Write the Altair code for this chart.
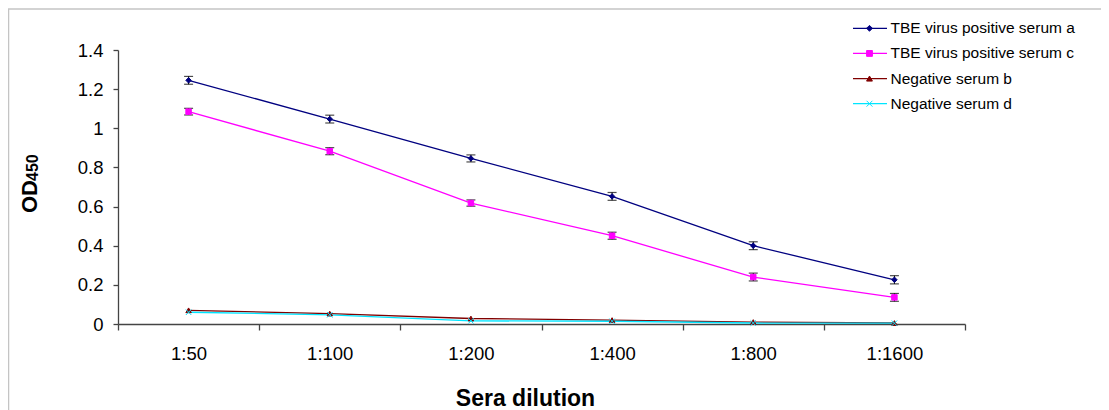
import altair as alt
import pandas as pd

dilutions = ["1:50", "1:100", "1:200", "1:400", "1:800", "1:1600"]
series = ["TBE virus positive serum a", "TBE virus positive serum c",
          "Negative serum b", "Negative serum d"]
serum_a = [1.245, 1.047, 0.846, 0.652, 0.400, 0.226]
serum_c = [1.085, 0.883, 0.618, 0.451, 0.240, 0.136]
serum_b = [0.070, 0.053, 0.028, 0.020, 0.010, 0.005]
serum_d = [0.060, 0.047, 0.016, 0.014, 0.005, 0.004]
err_a = [0.020, 0.020, 0.018, 0.020, 0.020, 0.021]
err_c = [0.017, 0.018, 0.016, 0.018, 0.020, 0.020]
y_ticks = [0, 0.2, 0.4, 0.6, 0.8, 1.0, 1.2, 1.4]
colors = ["#000080", "#FF00FF", "#800000", "#00E5FF"]
shapes = ["diamond", "square", "triangle-up", "M-1,-1L1,1M-1,1L1,-1"]

rows = []
for name, vals, errs in [(series[0], serum_a, err_a), (series[1], serum_c, err_c),
                         (series[2], serum_b, None), (series[3], serum_d, None)]:
    for i, d in enumerate(dilutions):
        e = errs[i] if errs else 0.0
        rows.append({"dilution": d, "idx": i, "series": name, "value": vals[i],
                     "lo": vals[i] - e, "hi": vals[i] + e, "has_err": errs is not None})
df = pd.DataFrame(rows)
err_df = df[df["has_err"]]

FONT = "Liberation Sans"
color_scale = alt.Scale(domain=series, range=colors)
shape_scale = alt.Scale(domain=series, range=shapes)

x_axis = alt.Axis(title="Sera dilution", labelAngle=0, tickBand="extent",
                  tickSize=6, labelPadding=14, labelFontSize=18.5,
                  titleFontSize=23, titleFontWeight="bold",
                  titleX=407, titleY=81, titleBaseline="alphabetic",
                  titleAnchor="middle", titleAlign="center")
x_scale = alt.Scale(paddingInner=0, paddingOuter=0)
y_axis = alt.Axis(title=None, values=y_ticks, format="~g", labelOverlap=False,
                  tickCount=8, tickSize=5, labelPadding=10, labelFontSize=18.5, grid=False)
y_scale = alt.Scale(domain=[0, 1.4], nice=False, zero=True)


def xe():
    return alt.X("dilution:N", sort=dilutions, scale=x_scale, axis=x_axis)


def ye(field):
    return alt.Y(field, scale=y_scale, axis=y_axis)


base = alt.Chart(df)
lines = base.mark_line(strokeWidth=1.3).encode(
    x=xe(), y=ye("value:Q"),
    color=alt.Color("series:N", scale=color_scale, legend=None),
    order=alt.Order("idx:Q"),
    detail="series:N",
)

ebase = alt.Chart(err_df)
err_rule = ebase.mark_rule(color="black", strokeWidth=1).encode(
    x=xe(), y=ye("lo:Q"), y2="hi:Q")
cap_lo = ebase.mark_tick(color="black", size=9, thickness=1.2).encode(
    x=xe(), y=ye("lo:Q"))
cap_hi = ebase.mark_tick(color="black", size=9, thickness=1.2).encode(
    x=xe(), y=ye("hi:Q"))

points = base.mark_point(filled=True, size=30, strokeWidth=1, opacity=1).encode(
    x=xe(), y=ye("value:Q"),
    shape=alt.Shape("series:N", scale=shape_scale, legend=None),
    fill=alt.Fill("series:N", scale=color_scale, legend=None),
    stroke=alt.Stroke("series:N", scale=color_scale, legend=None),
)

# y-axis title "OD" with subscript "450"
od_df = pd.DataFrame({"t": ["OD"]})
sub_df = pd.DataFrame({"t": ["450"]})
od_text = alt.Chart(od_df).mark_text(angle=270, align="left", baseline="alphabetic",
                                      font=FONT, fontSize=22, fontWeight="bold",
                                      color="black").encode(
    text="t:N", x=alt.value(-81), y=alt.value(163))
sub_text = alt.Chart(sub_df).mark_text(angle=270, align="left", baseline="alphabetic",
                                        font=FONT, fontSize=16, fontWeight="bold",
                                        color="black").encode(
    text="t:N", x=alt.value(-80), y=alt.value(131))

# outer chart-area border (top and left edges)
border_df = pd.DataFrame({"k": [0]})
border_top = alt.Chart(border_df).mark_rule(color="#c4c4c4", strokeWidth=1.5).encode(
    x=alt.value(-110), x2=alt.value(1000), y=alt.value(-41))
border_left = alt.Chart(border_df).mark_rule(color="#c4c4c4", strokeWidth=1.5).encode(
    x=alt.value(-109.5), y=alt.value(-41), y2=alt.value(400))

data_layer = alt.layer(lines, err_rule, cap_lo, cap_hi, points,
                       border_top, border_left, od_text, sub_text)

# custom legend (line + marker)
leg_df = pd.DataFrame({"series": series})
leg_y = alt.Y("series:N", sort=series,
              scale=alt.Scale(type="point", domain=series, range=[-21.7, 53.7], padding=0),
              axis=None)
leg_base = alt.Chart(leg_df)
leg_rule = leg_base.mark_rule(strokeWidth=1.3).encode(
    x=alt.value(735), x2=alt.value(769), y=leg_y,
    color=alt.Color("series:N", scale=color_scale, legend=None))
leg_pts = leg_base.mark_point(filled=True, size=34, strokeWidth=1, opacity=1).encode(
    x=alt.value(751.5), y=leg_y,
    shape=alt.Shape("series:N", scale=shape_scale, legend=None),
    fill=alt.Fill("series:N", scale=color_scale, legend=None),
    stroke=alt.Stroke("series:N", scale=color_scale, legend=None))
leg_text = leg_base.mark_text(align="left", baseline="middle", font=FONT,
                              fontSize=15.5, color="black").encode(
    x=alt.value(772.5), y=leg_y, text="series:N")
legend_layer = alt.layer(leg_rule, leg_pts, leg_text)

chart = alt.layer(data_layer, legend_layer).resolve_scale(
    y="independent"
).properties(
    width=847, height=274,
    padding={"left": 110, "top": 42, "right": 136, "bottom": 86},
    autosize=alt.AutoSizeParams(type="none"),
    background="white",
).configure_view(stroke=None).configure_axis(
    labelFont=FONT, titleFont=FONT, labelColor="black", titleColor="black",
    domainColor="#444444", tickColor="#444444", domainWidth=1.3, tickWidth=1.3,
    grid=False,
)

chart.save("out.html", embed_options={"renderer": "svg", "actions": False})
